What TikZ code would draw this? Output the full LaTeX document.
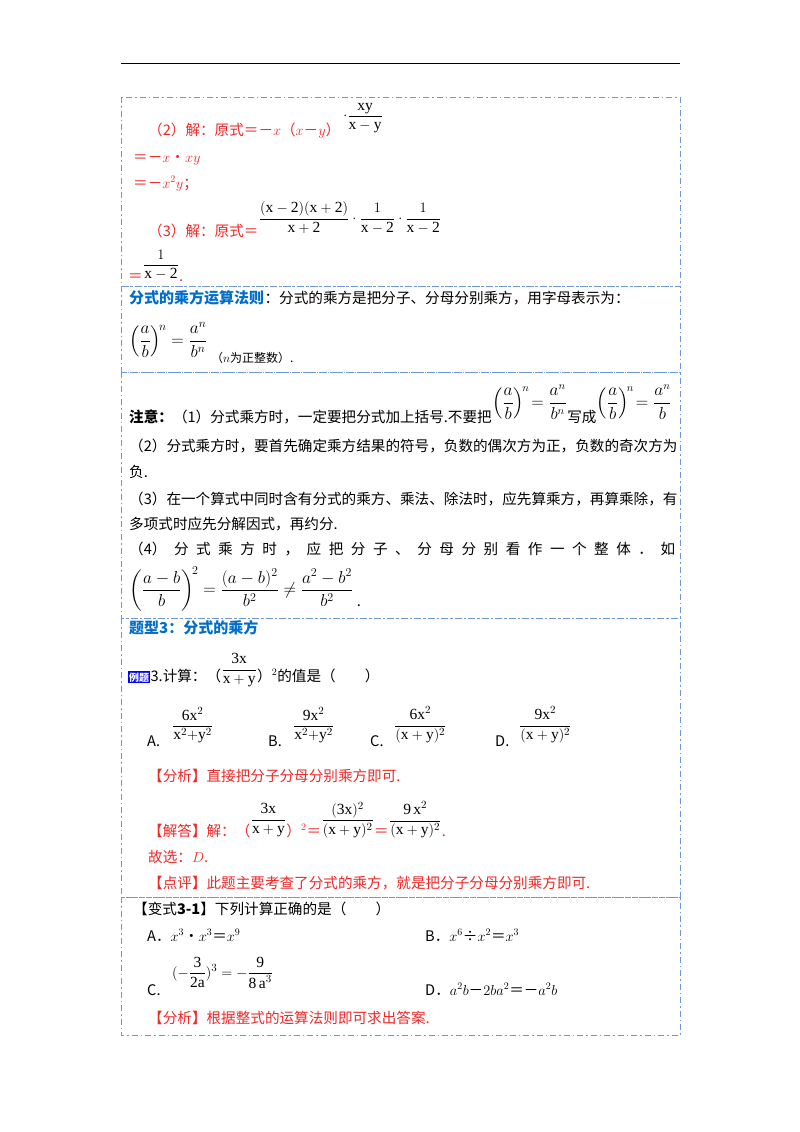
\documentclass[tikz,border=0pt]{standalone}
\usepackage{fontspec}
\usepackage{amsmath}
\setmainfont{Liberation Serif}
\newfontfamily\cjk{Noto Sans CJK SC}
\definecolor{bx}{RGB}{110,150,220}
\definecolor{rd}{RGB}{240,40,40}
\definecolor{hb}{RGB}{0,110,200}
\begin{document}
\begin{tikzpicture}[x=1pt,y=-1pt,
  t/.style={anchor=base west,inner sep=0pt,font=\cjk\fontsize{14.6}{17}\selectfont},
  r/.style={t,text=rd},
  h/.style={t,text=hb,font=\cjk\bfseries\fontsize{15}{17}\selectfont},
  m/.style={anchor=west,inner sep=0pt,font=\fontsize{15.5}{18}\selectfont},
  mb/.style={m,font=\fontsize{18}{22}\selectfont},
  ms/.style={m,font=\fontsize{16}{19}\selectfont},
  frame/.style={draw=bx,line width=0.8pt,dash pattern=on 6pt off 3pt on 1.5pt off 3pt}]
\useasboundingbox (0,0) rectangle (800,1132);
\fill[white] (0,0) rectangle (800,1132);
\draw[line width=0.8pt] (121,63) -- (680,63);
\draw[frame] (121,97) rectangle (680,286);
\draw[frame] (121,286) rectangle (680,372);
\draw[frame] (121,372) rectangle (680,618);
\draw[frame] (121,618) rectangle (680,897);
\draw[frame] (121,897) rectangle (680,1035);
% box 1
\node[r] (a1) at (148,135) {（2）解：原式＝－$x$（$x$－$y$）};
\node[m,text=black] (a2) at (a1.east |- 0,118) {\,$\cdot\dfrac{\mathrm{xy}}{\mathrm{x-y}}$};
\node[r] (a3) at (133,162) {＝－$x$•$xy$};
\node[r] (a4) at (133,188) {＝－$x^2y$；};
\node[r] (a5) at (148,236) {（3）解：原式＝};
\node[m] (a6) at (a5.east |- 0,218) {$\dfrac{(\mathrm{x-2})(\mathrm{x+2})}{\mathrm{x+2}}\cdot\dfrac{1}{\mathrm{x-2}}\cdot\dfrac{1}{\mathrm{x-2}}$};
\node[r] (a7) at (128,281) {＝};
\node[m] (a8) at (a7.east |- 0,265) {$\dfrac{1}{\mathrm{x-2}}$};
\node[r] (a9) at (a8.east |- a7.base) {.};
% box 2
\node[h] (b1) at (129,303) {分式的乘方运算法则};
\node[t] (b2) at (b1.base east) {：分式的乘方是把分子、分母分别乘方，用字母表示为：};
\node[mb] (b3) at (129,340) {$\left(\dfrac{a}{b}\right)^{\!n}=\dfrac{a^n}{b^n}$};
\node[t,font=\cjk\fontsize{12}{14}\selectfont] (b4) at (b3.east |- 0,362) {\;（$n$为正整数）.};
% box 3
\node[t] (c1) at (129,422) {\textbf{注意：}（1）分式乘方时，一定要把分式加上括号.不要把};
\node[ms] (c2) at (c1.east |- 0,402) {$\left(\dfrac{a}{b}\right)^{\!n}\!=\dfrac{a^n}{b^n}$};
\node[t] (c3) at (c2.east |- c1.base) {写成};
\node[ms] (c4) at (c3.east |- 0,402) {$\left(\dfrac{a}{b}\right)^{\!n}\!=\dfrac{a^n}{b}$};
\node[t] (c5) at (129,451) {（2）分式乘方时，要首先确定乘方结果的符号，负数的偶次方为正，负数的奇次方为};
\node[t] (c6) at (129,477) {负.};
\node[t] (c7) at (129,504) {（3）在一个算式中同时含有分式的乘方、乘法、除法时，应先算乘方，再算乘除，有};
\node[t] (c8) at (129,529) {多项式时应先分解因式，再约分.};
\node[t] (c9) at (129,554) {\makebox[546pt][s]{（4） 分 式 乘 方 时 ， 应 把 分 子 、 分 母 分 别 看 作 一 个 整 体 ． 如}};
\node[mb] (c10) at (129,589) {$\left(\dfrac{a-b}{b}\right)^{\!2}=\dfrac{(a-b)^2}{b^2}\ne\dfrac{a^2-b^2}{b^2}$};
\node[t] (c11) at (c10.east |- 0,606) {\ .};
% box 4
\node[h] (d1) at (129,633) {题型3：分式的乘方};
\node[fill=blue,text=white,inner sep=1pt,font=\cjk\bfseries\fontsize{10}{12}\selectfont,anchor=base west] (d2) at (128,681) {例题};
\node[t] (d3) at (d2.base east) {3.计算：（};
\node[m] (d4) at (d3.east |- 0,670) {$\dfrac{\mathrm{3x}}{\mathrm{x+y}}$};
\node[t] (d5) at (d4.east |- d3.base) {）$^2$的值是（\qquad ）};
\node[t] (d6) at (147,746) {A.};
\node[m] (d7) at (172,725) {$\dfrac{\mathrm{6x}^2}{\mathrm{x}^2\mathrm{+y}^2}$};
\node[t] (d8) at (268,746) {B.};
\node[m] (d9) at (293,725) {$\dfrac{\mathrm{9x}^2}{\mathrm{x}^2\mathrm{+y}^2}$};
\node[t] (d10) at (370,746) {C.};
\node[m] (d11) at (394,725) {$\dfrac{\mathrm{6x}^2}{(\mathrm{x+y})^2}$};
\node[t] (d12) at (495,746) {D.};
\node[m] (d13) at (519,725) {$\dfrac{\mathrm{9x}^2}{(\mathrm{x+y})^2}$};
\node[r] (d14) at (148,781) {【分析】直接把分子分母分别乘方即可.};
\node[r] (d15) at (148,836) {【解答】解：（};
\node[m] (d16) at (d15.east |- 0,820) {$\dfrac{\mathrm{3x}}{\mathrm{x+y}}$};
\node[r] (d17) at (d16.east |- d15.base) {）$^2$＝};
\node[m] (d18) at (d17.east |- 0,820) {$\dfrac{(\mathrm{3x})^2}{(\mathrm{x+y})^2}$};
\node[r] (d19) at (d18.east |- d15.base) {＝};
\node[m] (d20) at (d19.east |- 0,820) {$\dfrac{\mathrm{9\,x}^2}{(\mathrm{x+y})^2}$};
\node[r] (d21) at (d20.east |- d15.base) {.};
\node[r] (d22) at (148,862) {故选：$D$.};
\node[r] (d23) at (148,888) {【点评】此题主要考查了分式的乘方，就是把分子分母分别乘方即可.};
% box 5
\node[t] (e1) at (133,914) {【变式\textbf{3-1}】下列计算正确的是（\qquad ）};
\node[t] (e2) at (147,941) {A．$x^3$•$x^3$＝$x^9$};
\node[t] (e3) at (425,941) {B．$x^6$÷$x^2$＝$x^3$};
\node[t] (e4) at (147,995) {C.};
\node[m] (e5) at (172,973) {$(-\dfrac{\mathrm{3}}{\mathrm{2a}})^3=-\dfrac{\mathrm{9}}{\mathrm{8\,a}^3}$};
\node[t] (e6) at (425,995) {D．$a^2b$－$2ba^2$＝－$a^2b$};
\node[r] (e7) at (148,1023) {【分析】根据整式的运算法则即可求出答案.};
\end{tikzpicture}
\end{document}
